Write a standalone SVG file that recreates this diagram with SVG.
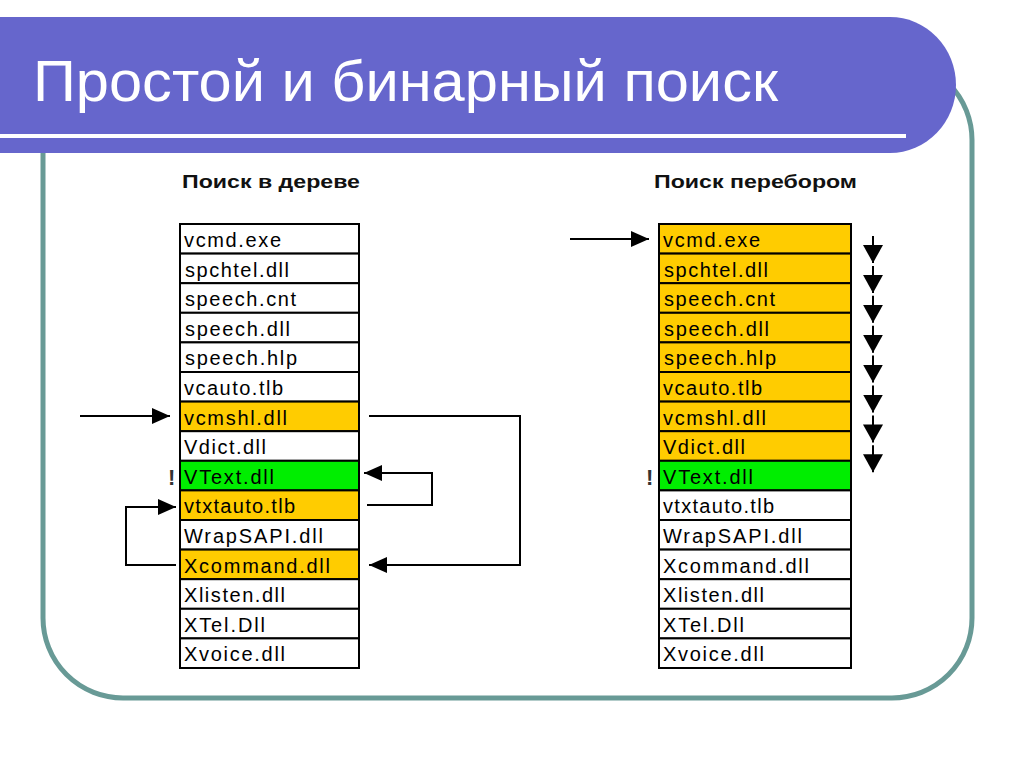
<svg xmlns="http://www.w3.org/2000/svg" width="1024" height="768" viewBox="0 0 1024 768">
<defs>
<style>
.cell{stroke:#000;stroke-width:2}
.w{fill:#fff}.o{fill:#FFCC00}.g{fill:#00EE00}
.t{font-family:"Liberation Sans",Arial,sans-serif;font-size:20px;fill:#000}
.sub{font-family:"Liberation Sans",Arial,sans-serif;font-size:19px;font-weight:bold;fill:#111}
.ex{font-family:"Liberation Sans",Arial,sans-serif;font-size:22px;font-weight:bold;fill:#333}
.c{fill:none;stroke:#000;stroke-width:2;marker-end:url(#ah)}
.d{fill:none;stroke:#000;stroke-width:2;marker-end:url(#ad)}
</style>
<marker id="ah" markerUnits="userSpaceOnUse" markerWidth="18" markerHeight="16" refX="18" refY="8" orient="auto"><path d="M0,0 L18,8 L0,16 z" fill="#000"/></marker>
<marker id="ad" markerUnits="userSpaceOnUse" markerWidth="18" markerHeight="20" refX="18" refY="10" orient="auto"><path d="M0,0 L18,10 L0,20 z" fill="#000"/></marker>
</defs>
<rect width="1024" height="768" fill="#fff"/>
<rect x="43" y="60" width="929" height="638" rx="80" ry="80" fill="none" stroke="#689A96" stroke-width="5"/>
<g id="banner">
<path d="M0,17 H890 A66,68 0 0 1 890,153 H0 Z" fill="#6666CC"/>
<rect x="0" y="134" width="906" height="4" fill="#fff"/>
<text x="33" y="101" font-family="Liberation Sans,Arial,sans-serif" font-size="58" fill="#fff" textLength="745" lengthAdjust="spacingAndGlyphs">Простой и бинарный поиск</text>
</g>
<text class="sub" x="182" y="188" textLength="178" lengthAdjust="spacingAndGlyphs">Поиск в дереве</text>
<text class="sub" x="654" y="188" textLength="203" lengthAdjust="spacingAndGlyphs">Поиск перебором</text>
<g id="tree-table">
<rect class="cell w" x="180" y="224" width="179" height="29.6"/>
<rect class="cell w" x="180" y="253.6" width="179" height="29.6"/>
<rect class="cell w" x="180" y="283.2" width="179" height="29.6"/>
<rect class="cell w" x="180" y="312.8" width="179" height="29.6"/>
<rect class="cell w" x="180" y="342.4" width="179" height="29.6"/>
<rect class="cell w" x="180" y="372" width="179" height="29.6"/>
<rect class="cell o" x="180" y="401.6" width="179" height="29.6"/>
<rect class="cell w" x="180" y="431.2" width="179" height="29.6"/>
<rect class="cell g" x="180" y="460.8" width="179" height="29.6"/>
<rect class="cell o" x="180" y="490.4" width="179" height="29.6"/>
<rect class="cell w" x="180" y="520" width="179" height="29.6"/>
<rect class="cell o" x="180" y="549.6" width="179" height="29.6"/>
<rect class="cell w" x="180" y="579.2" width="179" height="29.6"/>
<rect class="cell w" x="180" y="608.8" width="179" height="29.6"/>
<rect class="cell w" x="180" y="638.4" width="179" height="29.6"/>
<text class="t" x="184" y="247" textLength="97" lengthAdjust="spacing">vcmd.exe</text>
<text class="t" x="185" y="276.6" textLength="104" lengthAdjust="spacing">spchtel.dll</text>
<text class="t" x="185" y="306.2" textLength="111" lengthAdjust="spacing">speech.cnt</text>
<text class="t" x="185" y="335.8" textLength="105" lengthAdjust="spacing">speech.dll</text>
<text class="t" x="185" y="365.4" textLength="112" lengthAdjust="spacing">speech.hlp</text>
<text class="t" x="184" y="395" textLength="99" lengthAdjust="spacing">vcauto.tlb</text>
<text class="t" x="184" y="424.6" textLength="103" lengthAdjust="spacing">vcmshl.dll</text>
<text class="t" x="184" y="454.2" textLength="82" lengthAdjust="spacing">Vdict.dll</text>
<text class="t" x="184" y="483.8" textLength="90" lengthAdjust="spacing">VText.dll</text>
<text class="t" x="184" y="513.4" textLength="111" lengthAdjust="spacing">vtxtauto.tlb</text>
<text class="t" x="184" y="543" textLength="139" lengthAdjust="spacing">WrapSAPI.dll</text>
<text class="t" x="184" y="572.6" textLength="146" lengthAdjust="spacing">Xcommand.dll</text>
<text class="t" x="184" y="602.2" textLength="101" lengthAdjust="spacing">Xlisten.dll</text>
<text class="t" x="184" y="631.8" textLength="81" lengthAdjust="spacing">XTel.Dll</text>
<text class="t" x="184" y="661.4" textLength="101" lengthAdjust="spacing">Xvoice.dll</text>
<text class="ex" x="168" y="485">!</text>
</g>
<g id="brute-table">
<rect class="cell o" x="659" y="224" width="192" height="29.6"/>
<rect class="cell o" x="659" y="253.6" width="192" height="29.6"/>
<rect class="cell o" x="659" y="283.2" width="192" height="29.6"/>
<rect class="cell o" x="659" y="312.8" width="192" height="29.6"/>
<rect class="cell o" x="659" y="342.4" width="192" height="29.6"/>
<rect class="cell o" x="659" y="372" width="192" height="29.6"/>
<rect class="cell o" x="659" y="401.6" width="192" height="29.6"/>
<rect class="cell o" x="659" y="431.2" width="192" height="29.6"/>
<rect class="cell g" x="659" y="460.8" width="192" height="29.6"/>
<rect class="cell w" x="659" y="490.4" width="192" height="29.6"/>
<rect class="cell w" x="659" y="520" width="192" height="29.6"/>
<rect class="cell w" x="659" y="549.6" width="192" height="29.6"/>
<rect class="cell w" x="659" y="579.2" width="192" height="29.6"/>
<rect class="cell w" x="659" y="608.8" width="192" height="29.6"/>
<rect class="cell w" x="659" y="638.4" width="192" height="29.6"/>
<text class="t" x="663" y="247" textLength="97" lengthAdjust="spacing">vcmd.exe</text>
<text class="t" x="664" y="276.6" textLength="104" lengthAdjust="spacing">spchtel.dll</text>
<text class="t" x="664" y="306.2" textLength="111" lengthAdjust="spacing">speech.cnt</text>
<text class="t" x="664" y="335.8" textLength="105" lengthAdjust="spacing">speech.dll</text>
<text class="t" x="664" y="365.4" textLength="112" lengthAdjust="spacing">speech.hlp</text>
<text class="t" x="663" y="395" textLength="99" lengthAdjust="spacing">vcauto.tlb</text>
<text class="t" x="663" y="424.6" textLength="103" lengthAdjust="spacing">vcmshl.dll</text>
<text class="t" x="663" y="454.2" textLength="82" lengthAdjust="spacing">Vdict.dll</text>
<text class="t" x="663" y="483.8" textLength="90" lengthAdjust="spacing">VText.dll</text>
<text class="t" x="663" y="513.4" textLength="111" lengthAdjust="spacing">vtxtauto.tlb</text>
<text class="t" x="663" y="543" textLength="139" lengthAdjust="spacing">WrapSAPI.dll</text>
<text class="t" x="663" y="572.6" textLength="146" lengthAdjust="spacing">Xcommand.dll</text>
<text class="t" x="663" y="602.2" textLength="101" lengthAdjust="spacing">Xlisten.dll</text>
<text class="t" x="663" y="631.8" textLength="81" lengthAdjust="spacing">XTel.Dll</text>
<text class="t" x="663" y="661.4" textLength="101" lengthAdjust="spacing">Xvoice.dll</text>
<text class="ex" x="646" y="485">!</text>
</g>
<g id="connectors">
<path class="c" d="M80,416 H170"/>
<path class="c" d="M369,416 H520 V565 H369"/>
<path class="c" d="M367,505 H432 V473 H364"/>
<path class="c" d="M176,565 H126 V507 H176"/>
<path class="c" d="M570,239 H649"/>
<path class="d" d="M873,236 V263"/>
<path class="d" d="M873,265.9 V292.9"/>
<path class="d" d="M873,295.8 V322.8"/>
<path class="d" d="M873,325.7 V352.7"/>
<path class="d" d="M873,355.6 V382.6"/>
<path class="d" d="M873,385.5 V412.5"/>
<path class="d" d="M873,415.4 V442.4"/>
<path class="d" d="M873,445.3 V472.3"/>
</g>
</svg>
